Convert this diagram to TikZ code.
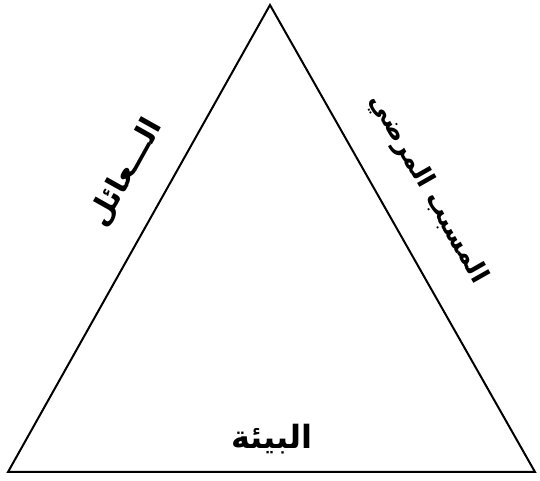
\documentclass[tikz,border=0pt]{standalone}
\usepackage{fontspec}
\newfontfamily\arabicfont[Script=Arabic]{DejaVu Sans}
\TeXXeTstate=1
\usetikzlibrary{calc}

\begin{document}
\begin{tikzpicture}[x=1pt,y=1pt,
    tside/.style={draw=black,line width=2pt,line join=miter},
    tlabel/.style={font=\arabicfont\bfseries\fontsize{30}{36}\selectfont,inner sep=0pt}
]
\useasboundingbox (0,0) rectangle (540,481);
\coordinate (apex) at (270,476);
\coordinate (baseleft) at (8,9);
\coordinate (baseright) at (535,9);
\draw[tside] (apex)--(baseleft)--(baseright)--cycle;
\node[tlabel,rotate=60.7] (host) at (126,308) {\beginR الـــعائل\endR};
\node[tlabel,rotate=-60.4,font=\arabicfont\bfseries\fontsize{26}{32}\selectfont] (pathogen) at (428,292) {\beginR المسبب المرضي\endR};
\node[tlabel,font=\arabicfont\bfseries\fontsize{32}{38}\selectfont] (environment) at (272,42) {\beginR البيئة\endR};
\end{tikzpicture}
\end{document}
